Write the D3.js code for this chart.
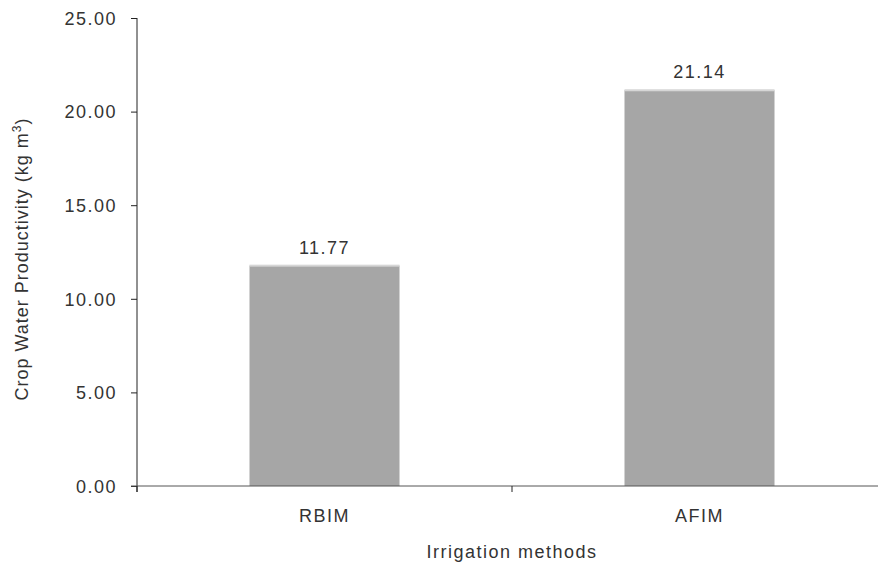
<!DOCTYPE html>
<html>
<head>
<meta charset="utf-8">
<script src="https://cdn.jsdelivr.net/npm/d3@7"></script>
<style>
  body { margin: 0; background: #fff; }
  text { font-family: "Liberation Sans", Arial, sans-serif; fill: #333; letter-spacing: 1.5px; }
</style>
</head>
<body>
<div class="canvas"></div>
<script>
// chart data
const methods = ['RBIM', 'AFIM'];
const productivity = [11.77, 21.14];
const yTicks = [0, 5, 10, 15, 20, 25];

const width = 878, height = 564;
const margin = { top: 18, left: 137, bottom: 78 };
const plotRight = 887; // axis runs past the window edge

const svg = d3.select('.canvas')
  .append('svg')
    .attr('width', width)
    .attr('height', height);

// scales
const x = d3.scaleBand()
  .domain(methods)
  .range([margin.left, plotRight])
  .paddingInner(0.6)
  .paddingOuter(0.3);

const y = d3.scaleLinear()
  .domain([0, 25])
  .range([height - margin.bottom, margin.top]);

const step = x.step();

// bars
const bars = svg.selectAll('.bar')
  .data(methods)
  .enter()
  .append('g')
  .attr('class', 'bar');

bars.append('rect')
  .attr('x', d => x(d))
  .attr('y', (d, i) => y(productivity[i]))
  .attr('width', x.bandwidth())
  .attr('height', (d, i) => y(0) - y(productivity[i]))
  .attr('fill', '#a6a6a6');

// light top edge on each bar
bars.append('rect')
  .attr('x', d => x(d))
  .attr('y', (d, i) => y(productivity[i]) - 1)
  .attr('width', x.bandwidth())
  .attr('height', 2)
  .attr('fill', '#d6d6d6');

// value labels
bars.append('text')
  .attr('x', d => x(d) + x.bandwidth() / 2)
  .attr('y', (d, i) => y(productivity[i]) - 12)
  .attr('text-anchor', 'middle')
  .style('font-size', '18px')
  .text((d, i) => productivity[i].toFixed(2));

// y axis
const yAxis = d3.axisLeft(y)
  .tickValues(yTicks)
  .tickSize(6)
  .tickFormat(d3.format('.2f'));

const yAxisGroup = svg.append('g')
  .attr('transform', `translate(${margin.left}, 0)`)
  .call(yAxis);

yAxisGroup.select('.domain').remove();
yAxisGroup.append('line')
  .attr('x1', 0).attr('x2', 0)
  .attr('y1', y(25)).attr('y2', y(0) + 6)
  .attr('stroke', '#222');
yAxisGroup.selectAll('.tick line').attr('stroke', '#222');
yAxisGroup.selectAll('.tick text')
  .attr('x', -20)
  .attr('dy', '0.35em')
  .style('font-size', '18px')
  .style('font-family', '"Liberation Sans", Arial, sans-serif')
  .style('letter-spacing', '1.5px')
  .attr('fill', '#333');

// x axis: line plus ticks at the band edges
const xAxisGroup = svg.append('g');
xAxisGroup.append('line')
  .attr('x1', margin.left - 6).attr('x2', plotRight)
  .attr('y1', y(0)).attr('y2', y(0))
  .attr('stroke', '#555');

const edges = [margin.left, margin.left + step, margin.left + 2 * step];
xAxisGroup.selectAll('.xtick')
  .data(edges)
  .enter()
  .append('line')
  .attr('x1', d => d).attr('x2', d => d)
  .attr('y1', y(0)).attr('y2', y(0) + 6)
  .attr('stroke', '#222');

xAxisGroup.selectAll('.xlabel')
  .data(methods)
  .enter()
  .append('text')
  .attr('x', d => x(d) + x.bandwidth() / 2)
  .attr('y', y(0) + 36)
  .attr('text-anchor', 'middle')
  .style('font-size', '18px')
  .text(d => d);

// axis titles
svg.append('text')
  .attr('x', margin.left + step)
  .attr('y', 558)
  .attr('text-anchor', 'middle')
  .style('font-size', '18px')
  .text('Irrigation methods');

const yTitle = svg.append('text')
  .attr('transform', `translate(28, ${(y(0) + y(25)) / 2 + 7}) rotate(-90)`)
  .attr('text-anchor', 'middle')
  .style('font-size', '18px')
  .style('letter-spacing', '1px')
  .text('Crop Water Productivity (kg m');
yTitle.append('tspan')
  .attr('dy', -7)
  .style('font-size', '12px')
  .text('3');
yTitle.append('tspan')
  .attr('dy', 7)
  .text(')');
</script>
</body>
</html>
